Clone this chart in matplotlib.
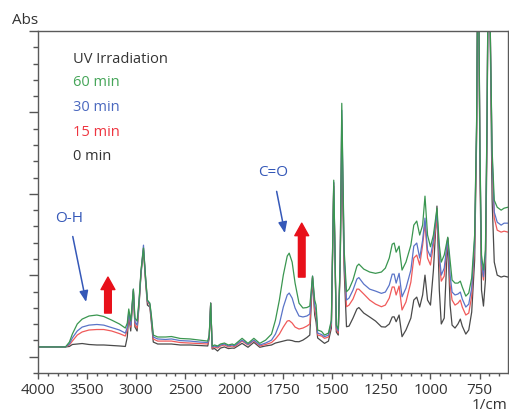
import numpy as np
import matplotlib
matplotlib.use('Agg')
import matplotlib.pyplot as plt
from matplotlib.ticker import FixedLocator, MultipleLocator, NullFormatter, FuncFormatter

plt.rcParams['font.family'] = ['Open Sans', 'DejaVu Sans']

# wavenumbers (1/cm)
wavenumber = [4000, 3720, 3680, 3650, 3600, 3550, 3480, 3400, 3330, 3250,
              3170, 3110, 3090, 3075, 3055, 3028, 3012, 2990, 2970, 2950,
              2925, 2905, 2885, 2860, 2845, 2825, 2780, 2700, 2640, 2550,
              2450, 2350, 2270, 2255, 2240, 2225, 2200, 2170, 2140, 2100,
              2060, 2020,
              2000, 1960, 1930, 1900, 1870, 1840, 1810, 1790, 1770, 1750,
              1730, 1720, 1705, 1690, 1670, 1650, 1630, 1615, 1601, 1590,
              1583, 1575, 1555, 1540, 1520, 1505, 1493, 1480, 1470, 1460,
              1452, 1440, 1428, 1415, 1395, 1375, 1365, 1340, 1310, 1280,
              1250, 1230, 1210, 1195, 1185, 1175, 1160, 1145, 1125, 1100,
              1085, 1070, 1055, 1040, 1028, 1015, 1000, 985, 967, 955,
              945, 930, 912, 900, 890, 875, 860, 848, 838, 820,
              805, 790, 775, 765, 757, 748, 740, 730, 720, 712,
              704, 694, 686, 675, 660, 640, 625, 605]

abs_60min = [.160, .160, .190, .239, .301, .331, .350, .356, .347, .325,
             .301, .276, .307, .393, .319, .515, .337, .319, .448, .632,
             .767, .601, .448, .429, .356, .233, .221, .221, .224, .212,
             .209, .202, .196, .233, .429, .166, .172, .166, .178, .184,
             .172, .178,
             .172, .213, .182, .213, .182, .202, .239, .325, .448, .601,
             .718, .736, .681, .552, .429, .399, .402, .411, .595, .448,
             .417, .264, .255, .233, .245, .325, 1.184, .294, .270, .693,
             1.656, .755, .499, .515, .571, .656, .669, .638, .620, .612,
             .620, .644, .706, .791, .798, .742, .779, .632, .681, .785,
             .908, .933, .847, .908, 1.086, .847, .775, .847, 1.012, .785,
             .681, .724, .834, .693, .571, .552, .552, .564, .528, .472,
             .491, .583, .847, 1.552, 2.8, 1.368, .724, .632, .755, 1.552,
             2.8, 2.0, 1.368, 1.061, 1.018, 1.000, 1.012, 1.018]

abs_30min = [.160, .160, .178, .215, .258, .282, .294, .298, .294, .279,
             .264, .245, .282, .374, .294, .515, .313, .294, .436, .620,
             .785, .595, .442, .423, .344, .221, .209, .206, .209, .199,
             .196, .190, .187, .227, .429, .160, .166, .160, .172, .178,
             .166, .172,
             .166, .202, .176, .202, .172, .184, .202, .239, .301, .405,
             .479, .491, .460, .399, .350, .344, .350, .362, .595, .417,
             .380, .245, .236, .223, .233, .313, 1.172, .282, .258, .693,
             1.613, .724, .448, .460, .509, .577, .586, .546, .515, .503,
             .489, .497, .540, .607, .607, .552, .612, .468, .521, .632,
             .779, .798, .706, .816, .951, .755, .714, .816, .988, .724,
             .601, .644, .828, .601, .497, .479, .485, .497, .454, .405,
             .423, .521, .816, 1.521, 2.8, 1.337, .681, .591, .724, 1.521,
             2.8, 2.0, 1.337, .988, .926, .908, .920, .920]

abs_15min = [.160, .160, .172, .196, .233, .252, .264, .267, .267, .258,
             .242, .227, .264, .362, .282, .509, .294, .276, .429, .620,
             .767, .589, .436, .417, .331, .209, .196, .196, .196, .187,
             .184, .181, .178, .221, .429, .153, .160, .153, .166, .172,
             .160, .166,
             .160, .196, .172, .198, .166, .175, .187, .209, .239, .282,
             .319, .322, .307, .282, .270, .276, .288, .301, .589, .387,
             .350, .233, .227, .213, .221, .301, 1.166, .270, .245, .681,
             1.552, .693, .407, .417, .454, .515, .515, .485, .448, .423,
             .407, .417, .460, .528, .528, .479, .534, .387, .436, .558,
             .706, .724, .663, .785, .920, .706, .663, .785, .951, .681,
             .564, .595, .828, .540, .448, .417, .429, .448, .405, .356,
             .368, .472, .785, 1.491, 2.8, 1.307, .656, .571, .706, 1.491,
             2.8, 2.0, 1.307, .951, .877, .865, .871, .865]

abs_0min = [.160, .160, .163, .175, .178, .181, .175, .172, .172, .169,
            .166, .163, .221, .350, .258, .503, .282, .258, .417, .607,
            .755, .571, .417, .405, .313, .190, .178, .178, .178, .172,
            .172, .169, .166, .215, .429, .147, .150, .135, .153, .160,
            .150, .153,
            .152, .182, .158, .188, .158, .166, .172, .184, .190, .196,
            .202, .202, .199, .193, .192, .202, .218, .233, .583, .356,
            .313, .215, .196, .182, .196, .276, 1.147, .252, .233, .663,
            1.368, .632, .284, .288, .337, .393, .402, .368, .344, .319,
            .284, .282, .301, .344, .345, .315, .356, .223, .264, .337,
            .448, .466, .405, .479, .601, .448, .417, .632, 1.025, .509,
            .301, .337, .828, .417, .294, .276, .301, .331, .288, .239,
            .264, .374, .693, 1.429, 2.8, 1.245, .509, .411, .571, 1.429,
            2.8, 1.9, 1.061, .681, .601, .589, .595, .589]

series_labels = ['60 min', '30 min', '15 min', '0 min']
line_colors = ['#3a9650', '#5a74c8', '#f05a5a', '#4a4a4a']
text_colors = ['#45a558', '#4a68bf', '#ee3540', '#333333']

major_ticks = [4000, 3500, 3000, 2500, 2000, 1750, 1500, 1250, 1000, 750]
minor_ticks = [w for w in list(range(3900, 2000, -100)) + list(range(1950, 600, -50))
               if w not in major_ticks]


# the spectrum axis is expanded 2x below 2000 1/cm
def fwd(w):
    w = np.asarray(w, dtype=float)
    return np.where(w >= 2000, w, 2 * w - 2000)


def inv(v):
    v = np.asarray(v, dtype=float)
    return np.where(v >= 2000, v, (v + 2000) / 2)


fig = plt.figure(figsize=(5.09, 4.16), dpi=100)
ax = fig.add_axes([38 / 509, 43 / 416, 470 / 509, 342 / 416])
ax.set_xscale('function', functions=(fwd, inv))

for ys, col in zip([abs_0min, abs_15min, abs_30min, abs_60min], line_colors[::-1]):
    ax.plot(wavenumber, ys, color=col, lw=0.9)

ax.set_xlim(4000, 605)
ax.set_ylim(0, 2.1)

ax.xaxis.set_major_locator(FixedLocator(major_ticks))
ax.xaxis.set_minor_locator(FixedLocator(minor_ticks))
ax.xaxis.set_major_formatter(FuncFormatter(lambda v, p: f'{v:.0f}'))
ax.xaxis.set_minor_formatter(NullFormatter())
ax.yaxis.set_major_locator(MultipleLocator(0.5, offset=0.1))
ax.yaxis.set_minor_locator(MultipleLocator(0.1))
ax.yaxis.set_major_formatter(NullFormatter())

ax.tick_params(axis='x', which='major', direction='out', length=4, width=1, color='#555555',
               labelsize=11, labelcolor='#333333', pad=3)
ax.tick_params(axis='x', which='minor', direction='out', length=2.5, width=1, color='#555555')
ax.tick_params(axis='y', which='major', direction='out', length=6.5, width=1, color='#555555')
ax.tick_params(axis='y', which='minor', direction='out', length=3.6, width=1, color='#555555')
for s in ax.spines.values():
    s.set_color('#5a5a5a')
    s.set_linewidth(1.0)

ax.text(0, 1.032, 'Abs', transform=ax.transAxes, ha='right', va='center', fontsize=11, color='#333333')
ax.text(0.998, -0.094, '1/cm', transform=ax.transAxes, ha='right', va='center', fontsize=11, color='#333333')

ax.text(0.0745, 0.918, 'UV Irradiation', transform=ax.transAxes, ha='left', va='center',
        fontsize=10.5, color='#333333')
for i, (lab, col) in enumerate(zip(series_labels, text_colors)):
    ax.text(0.0745, 0.848 - i * 0.072, lab, transform=ax.transAxes, ha='left', va='center',
            fontsize=10.5, color=col)

blue = '#3558b8'
ax.annotate('O-H', xy=(3510, 0.436), xytext=(0.066, 0.453), textcoords='axes fraction',
            ha='center', va='center', fontsize=11, color=blue,
            arrowprops=dict(arrowstyle='-|>,head_length=0.55,head_width=0.22', color=blue,
                            lw=1.1, shrinkA=6, shrinkB=0, mutation_scale=12))
ax.annotate('C=O', xy=(1742, 0.859), xytext=(0.5, 0.585), textcoords='axes fraction',
            ha='center', va='center', fontsize=11, color=blue,
            arrowprops=dict(arrowstyle='-|>,head_length=0.55,head_width=0.22', color=blue,
                            lw=1.1, shrinkA=6, shrinkB=0, mutation_scale=12))

red = '#e8101a'
for x0, y0, y1 in [(3287, 0.368, 0.589), (1656, 0.589, 0.920)]:
    ax.annotate('', xy=(x0, y1), xytext=(x0, y0),
                arrowprops=dict(arrowstyle='simple,head_length=0.9,head_width=1.0,tail_width=0.48',
                                color=red, shrinkA=0, shrinkB=0, mutation_scale=10))

fig.savefig('out.png', dpi=100)
